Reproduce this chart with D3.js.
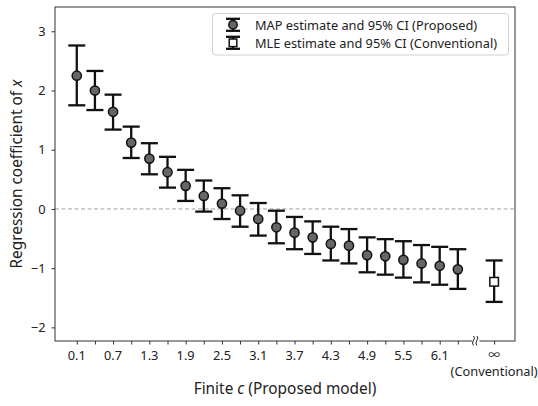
<!DOCTYPE html>
<html><head><meta charset="utf-8">
<script src="https://cdn.jsdelivr.net/npm/d3@7/dist/d3.min.js"></script>
<style>body{margin:0;background:#fff;} text{font-family:"Noto Sans","Noto Sans CJK JP",sans-serif;}</style>
</head><body><svg id="c" width="538" height="406"></svg>
<script>
const cValues = [0.1,0.4,0.7,1.0,1.3,1.6,1.9,2.2,2.5,2.8,3.1,3.4,3.7,4.0,4.3,4.6,4.9,5.2,5.5,5.8,6.1,6.4];
const mapEst  = [2.25,2.00,1.64,1.12,0.85,0.62,0.39,0.22,0.09,-0.03,-0.17,-0.31,-0.40,-0.48,-0.59,-0.62,-0.78,-0.80,-0.86,-0.92,-0.96,-1.02];
const mapLow  = [1.75,1.67,1.34,0.86,0.585,0.36,0.135,-0.045,-0.17,-0.30,-0.45,-0.58,-0.68,-0.76,-0.87,-0.92,-1.07,-1.11,-1.16,-1.24,-1.28,-1.35];
const mapHigh = [2.76,2.33,1.93,1.39,1.11,0.88,0.66,0.48,0.35,0.23,0.10,-0.03,-0.135,-0.21,-0.30,-0.34,-0.48,-0.51,-0.545,-0.61,-0.64,-0.68];
const mleEst = -1.23, mleLow = -1.57, mleHigh = -0.87;
const yTicks = [-2,-1,0,1,2,3];
const xLabelEvery = 2;
const legendLabels = ["MAP estimate and 95% CI (Proposed)","MLE estimate and 95% CI (Conventional)"];

const svg = d3.select("#c");
const L=55,R=515,T=7,B=341;
const n = cValues.length;
const x = d3.scaleLinear().domain([-1.2,n+2.15]).range([L,R]);
const y = d3.scaleLinear().domain([-2.23,3.41]).range([B,T]);
const infIdx = n+1, breakIdx = n;
const FS = 12.8;

// zero line
svg.append("line").attr("x1",L).attr("x2",R).attr("y1",y(0)).attr("y2",y(0))
  .attr("stroke","#a0a0a0").attr("stroke-width",1).attr("stroke-dasharray","4,2.5");

// axes
const tickIdx = d3.range(n).concat([infIdx]);
const xAxis = d3.axisBottom(x).tickValues(tickIdx).tickSize(3.5).tickFormat(()=>"");
const gx = svg.append("g").attr("transform",`translate(0,${B})`).call(xAxis);
gx.select(".domain").remove();
gx.selectAll(".tick line").attr("stroke","#333");
const gl = svg.append("g");
cValues.forEach((c,i)=>{ if(i%xLabelEvery===0) gl.append("text").attr("x",x(i)).attr("y",B+19).attr("text-anchor","middle").attr("font-size",FS).attr("fill","#222").text(c.toFixed(1)); });
gl.append("text").attr("x",x(infIdx)).attr("y",B+18).attr("text-anchor","middle").attr("font-size",FS-1).attr("fill","#222").text("∞");
gl.append("text").attr("x",x(infIdx)).attr("y",B+35).attr("text-anchor","middle").attr("font-size",FS).attr("fill","#222").text("(Conventional)");

const yAxis = d3.axisLeft(y).tickValues(yTicks).tickSize(3.5).tickPadding(6).tickFormat(d=>d<0?"\u2212"+Math.abs(d):d);
const gy = svg.append("g").attr("transform",`translate(${L},0)`).call(yAxis);
gy.select(".domain").remove();
gy.selectAll(".tick line").attr("stroke","#333");
gy.selectAll(".tick text").attr("font-size",FS).attr("fill","#222").attr("font-family","Noto Sans");

// frame
svg.append("rect").attr("x",L).attr("y",T).attr("width",R-L).attr("height",B-T).attr("fill","none").attr("stroke","#333").attr("stroke-width",1);

// break mark
const bx = x(breakIdx);
svg.append("rect").attr("x",bx-3.5).attr("y",B-1).attr("width",7).attr("height",2).attr("fill","#fff");
[-1.7,1.7].forEach(dx=>{
  svg.append("path").attr("d",`M${bx+dx-0.8},${B-5} q2,2 0,4.5 q-2,2.5 0,5`).attr("fill","none").attr("stroke","#222").attr("stroke-width",1);
});

// error bars
const cap = 8.5;
function errbar(xi, lo, hi){
  const g = svg.append("g").attr("stroke","#111").attr("stroke-width",2.3);
  g.append("line").attr("x1",x(xi)).attr("x2",x(xi)).attr("y1",y(lo)).attr("y2",y(hi));
  g.append("line").attr("x1",x(xi)-cap).attr("x2",x(xi)+cap).attr("y1",y(lo)).attr("y2",y(lo));
  g.append("line").attr("x1",x(xi)-cap).attr("x2",x(xi)+cap).attr("y1",y(hi)).attr("y2",y(hi));
}
mapEst.forEach((v,i)=>errbar(i,mapLow[i],mapHigh[i]));
errbar(infIdx,mleLow,mleHigh);
svg.append("g").selectAll("circle").data(mapEst).join("circle")
  .attr("cx",(d,i)=>x(i)).attr("cy",d=>y(d)).attr("r",4.6)
  .attr("fill","#666").attr("stroke","#111").attr("stroke-width",1.5);
svg.append("rect").attr("x",x(infIdx)-4.3).attr("y",y(mleEst)-4.3).attr("width",8.6).attr("height",8.6)
  .attr("fill","#fff").attr("stroke","#111").attr("stroke-width",1.5);

// legend
const lg = svg.append("g");
lg.append("rect").attr("x",212.5).attr("y",13.5).attr("width",296).attr("height",41.5).attr("rx",3)
  .attr("fill","#fff").attr("fill-opacity",0.8).attr("stroke","#d0d0d0").attr("stroke-width",1);
[0,1].forEach(k=>{
  const cy = 24.8 + k*18, hx = 233;
  const g = lg.append("g").attr("stroke","#111").attr("stroke-width",2.3);
  g.append("line").attr("x1",hx).attr("x2",hx).attr("y1",cy-6).attr("y2",cy+6);
  g.append("line").attr("x1",hx-7).attr("x2",hx+7).attr("y1",cy-6).attr("y2",cy-6);
  g.append("line").attr("x1",hx-7).attr("x2",hx+7).attr("y1",cy+6).attr("y2",cy+6);
  if(k===0) lg.append("circle").attr("cx",hx).attr("cy",cy).attr("r",4.2).attr("fill","#666").attr("stroke","#111").attr("stroke-width",1.5);
  else lg.append("rect").attr("x",hx-3.8).attr("y",cy-3.8).attr("width",7.6).attr("height",7.6).attr("fill","#fff").attr("stroke","#111").attr("stroke-width",1.5);
  lg.append("text").attr("x",255).attr("y",cy+5).attr("font-size",FS).attr("fill","#222").text(legendLabels[k]);
});

// axis titles
const xt = svg.append("text").attr("x",(L+R)/2).attr("y",394).attr("text-anchor","middle").attr("font-size",15.4).attr("fill","#222");
xt.append("tspan").text("Finite ");
xt.append("tspan").attr("font-style","italic").text("c");
xt.append("tspan").text(" (Proposed model)");
const yt = svg.append("text").attr("transform",`translate(22,${(T+B)/2}) rotate(-90)`).attr("text-anchor","middle").attr("font-size",15.4).attr("fill","#222");
yt.append("tspan").text("Regression coefficient of ");
yt.append("tspan").attr("font-style","italic").text("x");
</script></body></html>
